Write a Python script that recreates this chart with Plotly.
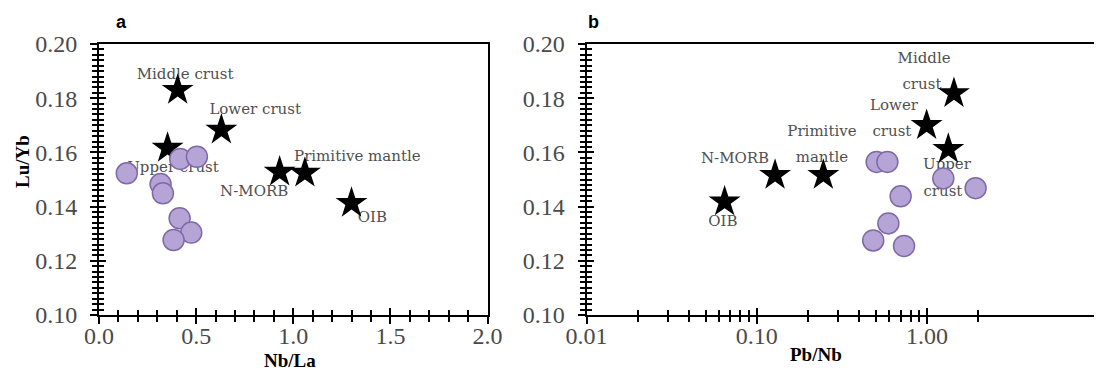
import plotly.graph_objects as go

# page body has an 8px default margin -> build figure slightly smaller and shift
OFF = 8
W, H = 1102 - OFF, 373 - OFF


def px(x):
    return (x - OFF) / W


def py(y):
    return 1 - (y - OFF) / H


# ---------------- Panel a : Lu/Yb vs Nb/La ----------------
a_sample_x = [0.143, 0.418, 0.504, 0.317, 0.329, 0.415, 0.475, 0.384]
a_sample_y = [0.1523, 0.1576, 0.1584, 0.1483, 0.1449, 0.1357, 0.1304, 0.1277]

a_ref_names = ["Middle crust", "Lower crust", "Upper crust", "N-MORB", "Primitive mantle", "OIB"]
a_ref_x = [0.405, 0.63, 0.353, 0.93, 1.06, 1.30]
a_ref_y = [0.183, 0.1683, 0.1616, 0.1528, 0.1524, 0.1413]

a_label_text = ["Middle crust", "Lower crust", "Upper crust", "Primitive mantle", "N-MORB", "OIB"]
a_label_x = [0.443, 0.804, 0.381, 1.33, 0.799, 1.407]
a_label_y = [0.1886, 0.1757, 0.1542, 0.1583, 0.1454, 0.1358]

# ---------------- Panel b : Lu/Yb vs Pb/Nb ----------------
b_sample_x = [0.506, 0.585, 1.247, 1.93, 0.70, 0.593, 0.483, 0.733]
b_sample_y = [0.1565, 0.1565, 0.1504, 0.1468, 0.1438, 0.1338, 0.1275, 0.1255]

b_ref_names = ["OIB", "N-MORB", "Primitive mantle", "Middle crust", "Lower crust", "Upper crust"]
b_ref_x = [0.0647, 0.128, 0.246, 1.44, 0.995, 1.334]
b_ref_y = [0.1418, 0.1516, 0.1516, 0.1818, 0.170, 0.1612]

b_label_text = ["OIB", "N-MORB", "Primitive", "mantle", "Middle", "crust", "Lower", "crust", "Upper", "crust"]
b_label_x = [0.0632, 0.0745, 0.2415, 0.2415, 0.962, 0.934, 0.640, 0.622, 1.31, 1.24]
b_label_y = [0.1341, 0.1575, 0.1674, 0.1579, 0.1945, 0.1846, 0.1769, 0.1674, 0.1553, 0.1454]

# tick definitions
y_ticks = [0.10, 0.12, 0.14, 0.16, 0.18, 0.20]
y_ticktext = ["0.10", "0.12", "0.14", "0.16", "0.18", "0.20"]
a_x_ticks = [0.0, 0.5, 1.0, 1.5, 2.0]
a_x_ticktext = ["0.0", "0.5", "1.0", "1.5", "2.0"]
b_x_ticks = [0.01, 0.1, 1.0]
b_x_ticktext = ["0.01", "0.10", "1.00"]
b_x_minor = [0.02, 0.03, 0.04, 0.05, 0.06, 0.07, 0.08, 0.09,
             0.2, 0.3, 0.4, 0.5, 0.6, 0.7, 0.8, 0.9, 2.0]

circle_fill = "#b6a4d6"
circle_line = "#7f6aa8"
label_color = "#505050"
label_font = dict(family="DejaVu Serif", size=15, color=label_color)
tick_font = dict(family="Liberation Serif", size=24, color="#4a4a4a")
STAR = 24
CIRC = 21

fig = go.Figure()

# Panel a
fig.add_trace(go.Scatter(x=a_label_x, y=a_label_y, mode="text", text=a_label_text,
                         textfont=label_font, xaxis="x", yaxis="y", hoverinfo="skip"))
fig.add_trace(go.Scatter(x=a_ref_x, y=a_ref_y, mode="markers", name="reference",
                         marker=dict(symbol="star", size=STAR, color="black"),
                         xaxis="x", yaxis="y"))
fig.add_trace(go.Scatter(x=a_sample_x, y=a_sample_y, mode="markers", name="samples",
                         marker=dict(symbol="circle", size=CIRC, color=circle_fill,
                                     line=dict(color=circle_line, width=1.5)),
                         xaxis="x", yaxis="y"))

# Panel b
fig.add_trace(go.Scatter(x=b_label_x, y=b_label_y, mode="text", text=b_label_text,
                         textfont=label_font, xaxis="x2", yaxis="y2", hoverinfo="skip"))
fig.add_trace(go.Scatter(x=b_ref_x, y=b_ref_y, mode="markers", name="reference",
                         marker=dict(symbol="star", size=STAR, color="black"),
                         xaxis="x2", yaxis="y2"))
fig.add_trace(go.Scatter(x=b_sample_x, y=b_sample_y, mode="markers", name="samples",
                         marker=dict(symbol="circle", size=CIRC, color=circle_fill,
                                     line=dict(color=circle_line, width=1.5)),
                         xaxis="x2", yaxis="y2"))

# invisible traces on overlay axes (inside ticks)
fig.add_trace(go.Scatter(x=[None], y=[None], xaxis="x3", yaxis="y3", showlegend=False))
fig.add_trace(go.Scatter(x=[None], y=[None], xaxis="x4", yaxis="y4", showlegend=False))

yb, yt = py(315), py(44)
xa0, xa1 = px(99), px(487.5)
xb0, xb1 = px(586.6), 1.0
b_range = [-2, -2 + (1102 - 586.6) / 170.2]

common_y = dict(range=[0.10, 0.20], domain=[yb, yt], showgrid=False, zeroline=False,
                automargin=False, ticklabelstandoff=8,
                tickvals=y_ticks, ticktext=y_ticktext, tickfont=tick_font,
                ticks="outside", ticklen=7, tickwidth=2, tickcolor="black",
                showline=True, linecolor="black", linewidth=2,
                minor=dict(dtick=0.002, tick0=0.10, ticks="outside", ticklen=5,
                           tickwidth=1.5, tickcolor="black"))

common_x = dict(showgrid=False, zeroline=False, automargin=False, ticklabelstandoff=-9,
                tickfont=tick_font, ticks="outside", ticklen=7, tickwidth=2,
                tickcolor="black", showline=True, linecolor="black", linewidth=2,
                mirror=True)

inner = dict(showgrid=False, zeroline=False, showline=False, showticklabels=False,
             automargin=False, ticks="inside", ticklen=7, tickwidth=2, tickcolor="black")

fig.update_layout(
    width=W, height=H, margin=dict(l=0, r=0, t=0, b=0, autoexpand=False),
    paper_bgcolor="white", plot_bgcolor="white", showlegend=False,
    xaxis=dict(range=[0, 2.0], domain=[xa0, xa1], anchor="y",
               tickvals=a_x_ticks, ticktext=a_x_ticktext,
               minor=dict(dtick=0.1, tick0=0, ticks="outside", ticklen=5,
                          tickwidth=1.5, tickcolor="black"), **common_x),
    yaxis=dict(anchor="x", mirror=True, **common_y),
    xaxis2=dict(type="log", range=b_range, domain=[xb0, xb1], anchor="y2",
                tickvals=b_x_ticks, ticktext=b_x_ticktext,
                minor=dict(tickvals=b_x_minor, ticks="outside", ticklen=5,
                           tickwidth=1.5, tickcolor="black"), **common_x),
    yaxis2=dict(anchor="x2", mirror=False, **common_y),
    # overlay axes giving the inward half of the crossing ticks
    xaxis3=dict(overlaying="x", anchor="y3", range=[0, 2.0], side="bottom",
                tickvals=a_x_ticks,
                minor=dict(dtick=0.1, tick0=0, ticks="inside", ticklen=5,
                           tickwidth=1.5, tickcolor="black"), **inner),
    yaxis3=dict(overlaying="y", anchor="x3", range=[0.10, 0.20], side="left",
                tickvals=y_ticks,
                minor=dict(dtick=0.002, tick0=0.10, ticks="inside", ticklen=5,
                           tickwidth=1.5, tickcolor="black"), **inner),
    xaxis4=dict(overlaying="x2", type="log", anchor="y4", range=b_range, side="bottom",
                tickvals=b_x_ticks,
                minor=dict(tickvals=b_x_minor, ticks="inside", ticklen=5,
                           tickwidth=1.5, tickcolor="black"), **inner),
    yaxis4=dict(overlaying="y2", anchor="x4", range=[0.10, 0.20], side="left",
                tickvals=y_ticks,
                minor=dict(dtick=0.002, tick0=0.10, ticks="inside", ticklen=5,
                           tickwidth=1.5, tickcolor="black"), **inner),
)

title_font = dict(family="Liberation Serif", size=19, color="black")
annos = [
    dict(text="<b>Nb/La</b>", x=px(290), y=py(360), font=title_font),
    dict(text="<b>Pb/Nb</b>", x=px(816), y=py(354), font=title_font),
    dict(text="<b>Lu/Yb</b>", x=px(22), y=py(162), font=title_font, textangle=-90),
    dict(text="<b>a</b>", x=px(121), y=py(22),
         font=dict(family="Liberation Sans", size=18, color="black")),
    dict(text="<b>b</b>", x=px(593), y=py(22),
         font=dict(family="Liberation Sans", size=18, color="black")),
]
for a in annos:
    fig.add_annotation(xref="paper", yref="paper", xanchor="center", yanchor="middle",
                       showarrow=False, **a)

fig.write_html("out.html")
